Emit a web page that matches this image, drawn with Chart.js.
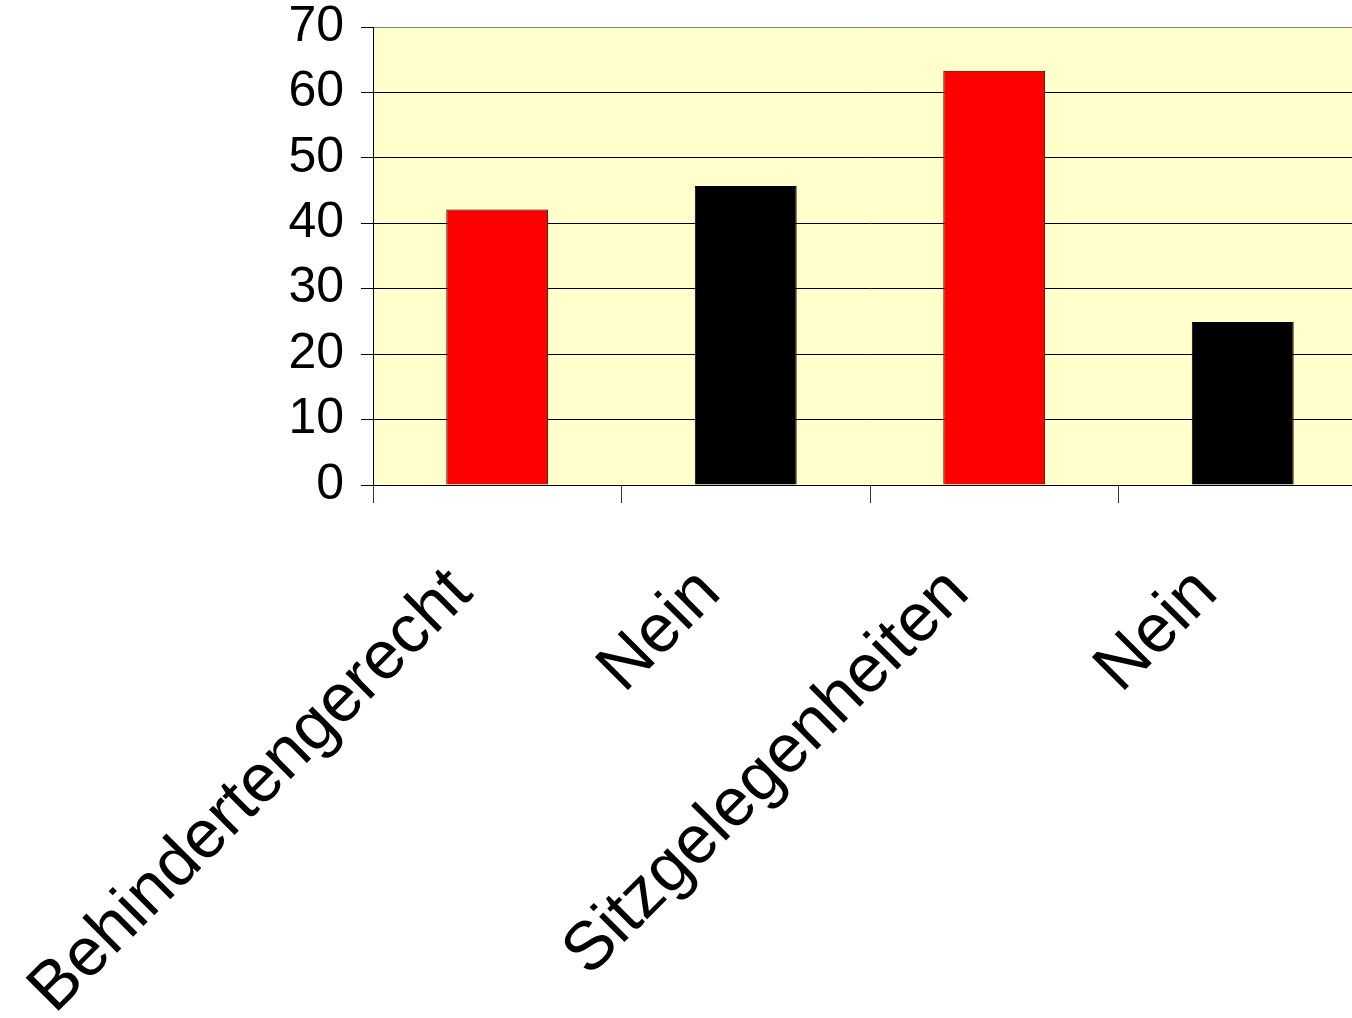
<!DOCTYPE html>
<html>
<head>
<meta charset="utf-8">
<script src="https://cdn.jsdelivr.net/npm/chart.js@4"></script>
<style>
  html, body { margin: 0; padding: 0; background: #fff; overflow: hidden; }
  #wrap { width: 1367px; height: 1018px; }
</style>
</head>
<body>
<div id="wrap"><canvas id="myChart"></canvas></div>
<script>
var categories = ['Behindertengerecht', 'Nein', 'Sitzgelegenheiten', 'Nein'];
var values = [42.1, 45.7, 63.3, 24.9];
var barColors = ['#ff0000', '#000000', '#ff0000', '#000000'];
var yTicks = [0, 10, 20, 30, 40, 50, 60, 70];

var plotBackground = {
    id: 'plotBackground',
    beforeDraw: (chart) => {
        var a = chart.chartArea;
        var ctx = chart.ctx;
        ctx.save();
        ctx.fillStyle = '#ffffcc';
        ctx.fillRect(a.left, a.top, a.right - a.left, a.bottom - a.top);
        ctx.restore();
    }
};

var chart;
var ctx = document.getElementById('myChart').getContext('2d');
chart = new Chart(ctx, {
    type: 'bar',
    data: {
        labels: categories,
        datasets: [{
            data: values,
            backgroundColor: barColors,
            borderColor: '#000000',
            borderWidth: 1,
            categoryPercentage: 1,
            barPercentage: 0.41
        }]
    },
    options: {
        responsive: true,
        maintainAspectRatio: false,
        animation: false,
        layout: { padding: { top: 27, left: 0, right: 0, bottom: 0 } },
        plugins: {
            legend: { display: false },
            tooltip: { enabled: false }
        },
        scales: {
            x: {
                grid: {
                    drawOnChartArea: false,
                    drawTicks: true,
                    tickLength: 18,
                    color: '#333333'
                },
                border: { color: '#000000', width: 1 },
                ticks: {
                    color: '#000000',
                    font: { family: 'Liberation Sans, Arial, sans-serif', size: 68 },
                    minRotation: 45,
                    maxRotation: 45,
                    padding: 50,
                    labelOffset: -36,
                    autoSkip: false
                },
                afterFit: (scale) => {
                    scale.paddingLeft = 0;
                    scale.paddingRight = 0;
                    scale.height = 533;
                }
            },
            y: {
                min: 0,
                max: 70,
                afterBuildTicks: (scale) => {
                    scale.ticks = yTicks.map((v) => ({ value: v }));
                },
                grid: {
                    color: (c) => (c.tick && c.tick.value === 70 ? '#808080' : '#000000'),
                    tickLength: 12,
                    tickColor: '#000000'
                },
                border: { color: '#000000', width: 1 },
                ticks: {
                    color: '#000000',
                    font: { family: 'Liberation Sans, Arial, sans-serif', size: 50 },
                    padding: 17
                },
                afterFit: (scale) => {
                    scale.width = 373;
                    scale.paddingTop = 0;
                    scale.paddingBottom = 0;
                }
            }
        }
    },
    plugins: [plotBackground]
});
</script>
</body>
</html>
